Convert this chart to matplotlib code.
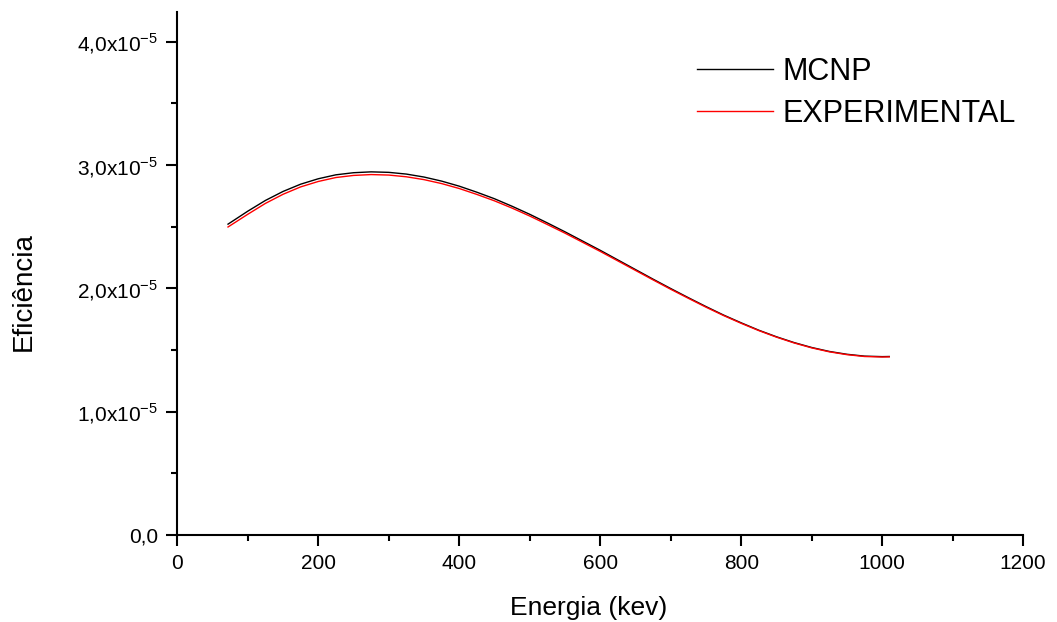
import matplotlib
matplotlib.use("Agg")
from matplotlib import pyplot as plt
from matplotlib.ticker import MultipleLocator, FixedLocator
import numpy as np

plt.rcParams["font.family"] = ["Liberation Sans", "DejaVu Sans"]
plt.rcParams["mathtext.fontset"] = "custom"
plt.rcParams["mathtext.rm"] = "Liberation Sans"

# energy (keV) and efficiency (x1e-5)
energia = [72, 100, 125, 150, 175, 200, 225, 250, 275, 300, 325, 350, 375, 400,
           425, 450, 475, 500, 525, 550, 575, 600, 625, 650, 675, 700, 725,
           750, 775, 800, 825, 850, 875, 900, 925, 950, 975, 1000, 1010]
mcnp = [2.520, 2.625, 2.712, 2.785, 2.844, 2.888, 2.920, 2.937, 2.944, 2.940,
        2.926, 2.902, 2.869, 2.828, 2.779, 2.726, 2.665, 2.600, 2.530, 2.458,
        2.383, 2.308, 2.230, 2.152, 2.074, 1.998, 1.924, 1.852, 1.783, 1.720,
        1.660, 1.607, 1.560, 1.520, 1.488, 1.465, 1.450, 1.446, 1.447]
experimental = [2.497, 2.600, 2.688, 2.762, 2.822, 2.866, 2.898, 2.915, 2.922, 2.918,
                2.904, 2.881, 2.849, 2.809, 2.761, 2.709, 2.650, 2.586, 2.517, 2.447,
                2.373, 2.299, 2.222, 2.145, 2.068, 1.992, 1.919, 1.847, 1.779, 1.716,
                1.657, 1.604, 1.557, 1.517, 1.485, 1.462, 1.447, 1.443, 1.444]
yticks = [0.0, 1.0, 2.0, 3.0, 4.0]

fig = plt.figure(figsize=(10.57, 6.22), dpi=100)
ax = fig.add_axes([0.1677, 0.1399, 0.8003, 0.8408])

ax.plot(energia, np.array(mcnp) * 1e-5, color="black", lw=1.0, label="MCNP")
ax.plot(energia, np.array(experimental) * 1e-5, color="red", lw=1.0, label="EXPERIMENTAL")

ax.set_xlim(0, 1200)
ax.set_ylim(0, 4.24e-5)

for side in ["top", "right"]:
    ax.spines[side].set_visible(False)
for side in ["left", "bottom"]:
    ax.spines[side].set_linewidth(1.5)

ax.xaxis.set_major_locator(MultipleLocator(200))
ax.xaxis.set_minor_locator(MultipleLocator(100))
ax.yaxis.set_major_locator(FixedLocator([v * 1e-5 for v in yticks]))
ax.yaxis.set_minor_locator(MultipleLocator(0.5e-5))

ylabels = []
for v in yticks:
    s = "{:.1f}".format(v).replace(".", ",")
    if v != 0:
        s = s + "x10$^{\\mathregular{-5}}$"
    ylabels.append(s)
ax.set_yticklabels(ylabels)

ax.tick_params(which="major", direction="out", length=8, width=1.5, labelsize=15, pad=6)
ax.tick_params(which="minor", direction="out", length=4, width=1.5)

fig.text(589 / 1057, 1 - 608 / 622, "Energia (kev)", ha="center", va="center", fontsize=19)
fig.text(24 / 1057, 1 - 292 / 622, "Eficiência", ha="center", va="center",
         rotation=90, fontsize=20)

leg = ax.legend(loc="upper left", bbox_to_anchor=(697 / 1057, 1 - 57 / 622),
                bbox_transform=fig.transFigure, frameon=False, fontsize=22,
                handlelength=2.48, handletextpad=0.33, labelspacing=0.39,
                borderpad=0, borderaxespad=0)

fig.savefig("out.png", dpi=100)
